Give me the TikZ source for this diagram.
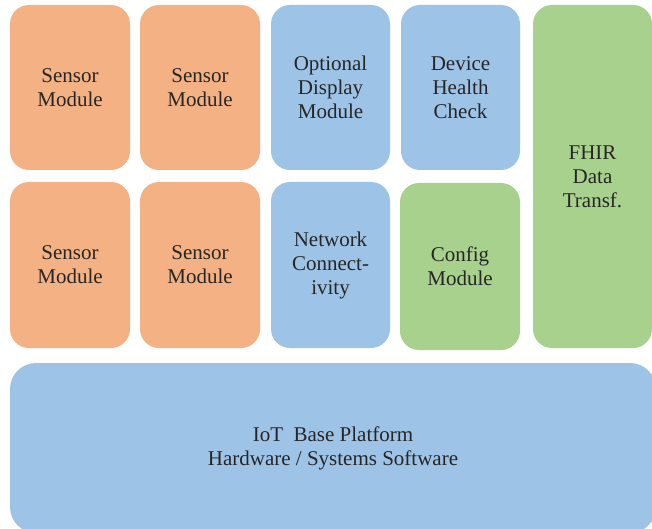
\documentclass[tikz,border=0pt]{standalone}
\usepackage{fontspec}
\setmainfont{Liberation Serif}
\usetikzlibrary{positioning}
\definecolor{sensororange}{HTML}{F4B183}
\definecolor{coreblue}{HTML}{9DC3E6}
\definecolor{servicegreen}{HTML}{A9D18E}
\definecolor{labeldark}{HTML}{262626}

\begin{document}
\begin{tikzpicture}[
    x=1pt, y=-1pt,
    module/.style={rounded corners=19pt, inner sep=0pt, align=center,
        text=labeldark, font=\fontsize{21}{24}\selectfont,
        minimum width=120pt, minimum height=#1},
    module/.default=165pt,
    sensor module/.style={module, fill=sensororange},
    core module/.style={module=#1, fill=coreblue},
    core module/.default=165pt,
    service module/.style={module=#1, fill=servicegreen},
    service module/.default=165pt,
]

% page frame
\useasboundingbox (0,0) rectangle (652,529);
\clip (0,0) rectangle (652,529);

% column centres and row centres
\def\colA{70}  \def\colB{200} \def\colC{330.5} \def\colD{460.5} \def\colE{592.5}
\def\rowA{87.5} \def\rowB{265}

% ---- top row ----
\node[sensor module] (sensorA) at (\colA,\rowA) {Sensor\\Module};
\node[sensor module] (sensorB) at (\colB,\rowA) {Sensor\\Module};
\node[core module, minimum width=119pt] (display) at (\colC,\rowA)
    {Optional\\Display\\Module};
\node[core module, minimum width=119pt] (health) at (\colD,\rowA)
    {Device\\Health\\Check};

% ---- second row ----
\node[sensor module, minimum height=166pt] (sensorC) at (\colA,\rowB) {Sensor\\Module};
\node[sensor module, minimum height=166pt] (sensorD) at (\colB,\rowB) {Sensor\\Module};
\node[core module=166pt, minimum width=119pt] (network) at (\colC,\rowB)
    {Network\\Connect-\\ivity};
\node[service module=167pt] (config) at (460,266.5) {Config\\Module};

% ---- full height on the right ----
\node[service module=343pt, minimum width=119pt] (fhir) at (\colE,176.5)
    {FHIR\\Data\\Transf.};

% ---- base platform ----
\node[module=170pt, fill=coreblue, rounded corners=26pt, minimum width=646pt]
    (platform) at (333,448) {IoT~~Base Platform\\Hardware / Systems Software};

\end{tikzpicture}
\end{document}
